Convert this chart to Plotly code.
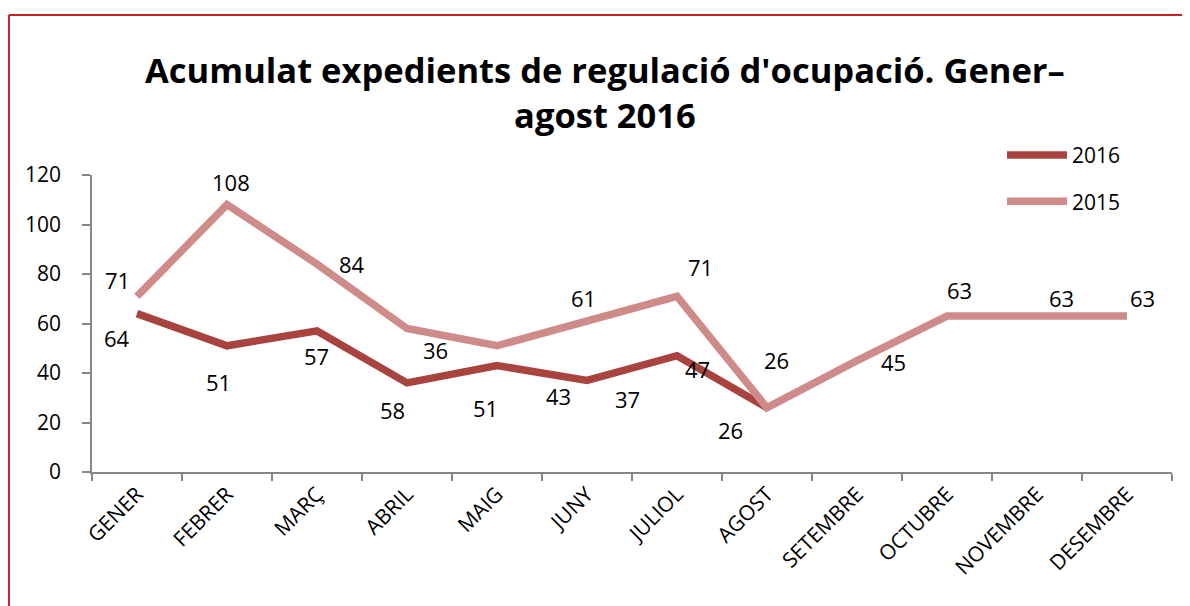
import plotly.graph_objects as go

months = ["GENER", "FEBRER", "MARÇ", "ABRIL", "MAIG", "JUNY", "JULIOL",
          "AGOST", "SETEMBRE", "OCTUBRE", "NOVEMBRE", "DESEMBRE"]
vals_2016 = [64, 51, 57, 36, 43, 37, 47, 26]
vals_2015 = [71, 108, 84, 58, 51, 61, 71, 26, 45, 63, 63, 63]
y_ticks = [0, 20, 40, 60, 80, 100, 120]

# label offsets (pixels, dx right, dy down) relative to each point, as placed in the original
off_2016 = [(-20, 24), (-9, 36), (-1, 25), (28, -33), (61, 30), (40, 19), (20, 13), (-37, 22)]
off_2015 = [(-20, -16), (4, -23), (35, 0), (-15, 82), (-12, 62), (-4, -23), (23, -29),
            (9, -48), (36, 1), (12, -26), (24, -18), (15, -18)]

C2016 = "#A8433F"
C2015 = "#CF8B8A"
FONT = "Open Sans, Noto Sans, sans-serif"

fig = go.Figure()
fig.add_trace(go.Scatter(x=months[:len(vals_2016)], y=vals_2016, name="2016", mode="lines",
                         line=dict(color=C2016, width=7.5), legendgroup="a"))
fig.add_trace(go.Scatter(x=months, y=vals_2015, name="2015", mode="lines",
                         line=dict(color=C2015, width=7.5), legendgroup="b"))

annotations = []
for series, offs in ((vals_2016, off_2016), (vals_2015, off_2015)):
    for i, v in enumerate(series):
        dx, dy = offs[i]
        annotations.append(dict(x=months[i], y=v, xref="x", yref="y", text=str(v),
                                showarrow=False, xshift=dx, yshift=-dy,
                                font=dict(family=FONT, size=22, color="black")))

fig.update_layout(
    width=1182, height=598,
    margin=dict(l=84, r=18, t=167, b=134, autoexpand=False),
    paper_bgcolor="white", plot_bgcolor="white",
    title=dict(text="Acumulat expedients de regulació d'ocupació. Gener–<br>agost 2016",
               x=0.505, xanchor="center", y=0.874, yanchor="middle",
               font=dict(family=FONT, size=34.5, color="black", weight="bold")),
    showlegend=True,
    legend=dict(x=0.8426, y=1.135, xanchor="left", yanchor="top",
                font=dict(family=FONT, size=21, color="black"),
                bgcolor="rgba(0,0,0,0)", itemwidth=60, tracegroupgap=16),
    annotations=annotations,
    shapes=[
        dict(type="line", xref="paper", yref="paper", x0=-0.0769, x1=-0.0769, y0=1.5387, y1=-0.46,
             line=dict(color="#CC1F1F", width=2)),
        dict(type="line", xref="paper", yref="paper", x0=-0.0769, x1=1.02, y0=1.5387, y1=1.5387,
             line=dict(color="#CC1F1F", width=2)),
    ],
)
fig.update_xaxes(type="category", categoryorder="array", categoryarray=months,
                 range=[-0.5, len(months) - 0.5],
                 tickson="boundaries", ticks="outside", ticklen=7, tickcolor="#868686",
                 tickwidth=1.5, showline=True, linecolor="#868686", linewidth=1.5,
                 showgrid=False, tickangle=-45, zeroline=False,
                 tickfont=dict(family=FONT, size=21, color="black"))
fig.update_yaxes(range=[0, 120], tickvals=y_ticks, ticks="outside", ticklen=8,
                 tickcolor="#868686", tickwidth=1.5, showline=True, linecolor="#868686",
                 linewidth=1.5, showgrid=False, zeroline=False, ticklabelstandoff=17,
                 tickfont=dict(family=FONT, size=21, color="black"))

fig.write_html("out.html")
